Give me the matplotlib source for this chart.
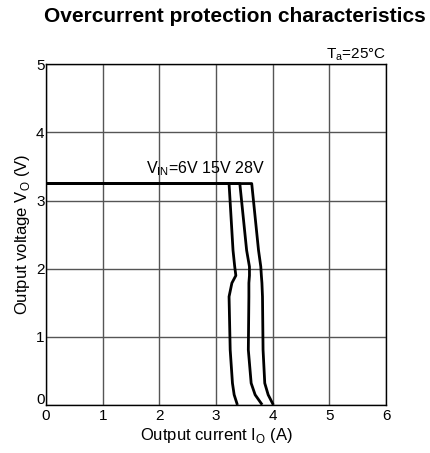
import matplotlib
matplotlib.use("Agg")
import matplotlib.pyplot as plt
import matplotlib.transforms as mtransforms

plt.rcParams['font.family'] = ['Liberation Sans', 'DejaVu Sans']
plt.rcParams['mathtext.fontset'] = 'custom'
plt.rcParams['mathtext.rm'] = 'Liberation Sans'

# ---- data (current A, voltage V) ----
vout = [3.25, 3.25, 2.27, 2.03, 1.90, 1.79, 1.59, 0.81, 0.32, 0.15, 0.02]
io_6v = [0.0, 3.23, 3.30, 3.33, 3.35, 3.28, 3.23, 3.25, 3.29, 3.32, 3.37]
io_15v = [0.0, 3.42, 3.54, 3.59, 3.59, 3.58, 3.58, 3.57, 3.62, 3.69, 3.80]
io_28v = [0.0, 3.63, 3.75, 3.79, 3.80, 3.81, 3.82, 3.83, 3.86, 3.92, 4.00]

x_ticks = [0, 1, 2, 3, 4, 5, 6]
y_ticks = [0, 1, 2, 3, 4, 5]

fig = plt.figure(figsize=(4.31, 4.53), dpi=100)
ax = fig.add_axes([0.1067, 0.106, 0.789, 0.752])

for io in (io_6v, io_15v, io_28v):
    ax.plot(io, vout, color='black', lw=2.0, solid_joinstyle='round', zorder=3)

ax.set_xlim(0, 6)
ax.set_ylim(0, 5)
ax.set_xticks(x_ticks)
ax.set_yticks(y_ticks)
ax.grid(True, color='#555555', lw=1.0)
ax.tick_params(length=0, labelsize=11, pad=1)
ax.tick_params(axis='x', pad=3)
for s in ax.spines.values():
    s.set_color('black')
    s.set_linewidth(1.0)

# lift the y "0" a little so it clears the x "0"
fig.canvas.draw()
ylab0 = ax.get_yticklabels()[0]
ylab0.set_transform(ylab0.get_transform() +
                    mtransforms.ScaledTranslation(0, 6 / 100, fig.dpi_scale_trans))

ax.set_xlabel(r'Output current I$_{\mathrm{O}}$ (A)', fontsize=12, labelpad=2)
ax.set_ylabel(r'Output voltage V$_{\mathrm{O}}$ (V)', fontsize=12, labelpad=3)

ax.text(1.0, 1.003, r'T$_{\mathrm{a}}$=25°C', transform=ax.transAxes,
        ha='right', va='bottom', fontsize=11)
ax.text(1.76, 3.33, r'V$_{\mathrm{IN}}$=6V 15V 28V', ha='left', va='bottom',
        fontsize=11.5)

fig.text(235 / 431, 1 - 17 / 453, 'Overcurrent protection characteristics',
         ha='center', va='center', fontsize=15, fontweight='bold')

fig.savefig('out.png', dpi=100)
